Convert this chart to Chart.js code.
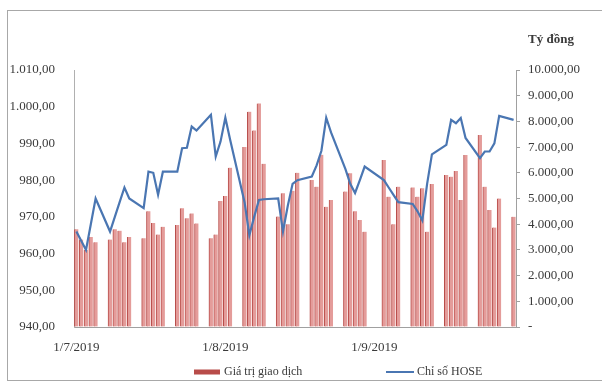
<!DOCTYPE html>
<html>
<head>
<meta charset="utf-8">
<script src="https://cdn.jsdelivr.net/npm/chart.js@4/dist/chart.umd.min.js"></script>
<style>
	body { margin: 0; background: #fff; }
	#wrap { position: relative; width: 602px; height: 385px; }
	#frame { position: absolute; left: 7px; top: 10px; width: 600px; height: 369px; border: 1px solid #a8a8a8; pointer-events: none; }
</style>
</head>
<body>
<div id="wrap">
	<canvas id="myChart" width="602" height="385"></canvas>
	<div id="frame"></div>
</div>
<script>
// phien giao dich HOSE quy 3/2019
var tradeDates = [
	"1/7/2019","2/7/2019","3/7/2019","4/7/2019","5/7/2019",
	"8/7/2019","9/7/2019","10/7/2019","11/7/2019","12/7/2019",
	"15/7/2019","16/7/2019","17/7/2019","18/7/2019","19/7/2019",
	"22/7/2019","23/7/2019","24/7/2019","25/7/2019","26/7/2019",
	"29/7/2019","30/7/2019","31/7/2019","1/8/2019","2/8/2019",
	"5/8/2019","6/8/2019","7/8/2019","8/8/2019","9/8/2019",
	"12/8/2019","13/8/2019","14/8/2019","15/8/2019","16/8/2019",
	"19/8/2019","20/8/2019","21/8/2019","22/8/2019","23/8/2019",
	"26/8/2019","27/8/2019","28/8/2019","29/8/2019","30/8/2019",
	"3/9/2019","4/9/2019","5/9/2019","6/9/2019",
	"9/9/2019","10/9/2019","11/9/2019","12/9/2019","13/9/2019",
	"16/9/2019","17/9/2019","18/9/2019","19/9/2019","20/9/2019",
	"23/9/2019","24/9/2019","25/9/2019","26/9/2019","27/9/2019",
	"30/9/2019"
];

// gia tri giao dich (ty dong)
var tradeValue = [
	3800,3400,3000,3500,3300,
	3400,3800,3750,3300,3500,
	3450,4500,4050,3600,3900,
	3970,4620,4230,4420,4030,
	3450,3600,4900,5100,6200,
	7000,8380,7650,8700,6350,
	4300,5200,4000,5300,6000,
	5720,5460,6700,4680,4940,
	5270,5980,4500,4160,3710,
	6500,5070,4000,5460,
	5430,5070,5400,3710,5560,
	5910,5850,6070,4940,6690,
	7470,5460,4550,3870,5000,
	4290
];

// chi so VN-Index
var hoseIndex = [
	966,963.5,961,968,975,
	966,970,974,978,975,
	972.4,982.3,982,976,982.3,
	982.3,988.7,988.8,994.6,993.5,
	997.8,986.4,990.5,997,991,
	974,965,970,974.6,974.8,
	975,966,973,979,980,
	981,984,988,997,993,
	983,979,976.5,980,983.7,
	980,978,976,974,
	973.5,971.5,969,979,987,
	989.6,996.4,995.5,996.9,991.5,
	986,987.8,987.8,990,997.5,
	996.4
];

var xTickLabels = ["1/7/2019","1/8/2019","1/9/2019"];
var firstDay = "1/7/2019";
var lastDay = "30/9/2019";

function dayNo(s)
{
	var p = s.split("/");
	var f = firstDay.split("/");
	var t = Date.UTC(+p[2], +p[1]-1, +p[0]);
	var t0 = Date.UTC(+f[2], +f[1]-1, +f[0]);
	return Math.round((t - t0) / 86400000);
}

function fmt(n)
{
	// 1234.5 -> 1.234,50
	var s = n.toFixed(2).split(".");
	var whole = s[0].replace(/\B(?=(\d{3})+(?!\d))/g, ".");
	return whole + "," + s[1];
}

var barPts = [];
var linePts = [];
for (var i = 0; i < tradeDates.length; i++)
{
	barPts.push({x: dayNo(tradeDates[i]), y: tradeValue[i]});
	linePts.push({x: dayNo(tradeDates[i]), y: hoseIndex[i]});
}

var FONT = "'Liberation Serif', 'Times New Roman', serif";
var TXT = "#3a3a3a";

// chu "Ty dong" tren truc phai va chu thich o duoi
var extras = {
	id: 'extras',
	afterDraw: function(chart) {
		var ctx = chart.ctx;
		var area = chart.chartArea;
		ctx.save();
		ctx.fillStyle = TXT;
		ctx.font = "bold 13px " + FONT;
		ctx.textBaseline = "middle";
		ctx.textAlign = "left";
		ctx.fillText("Tỷ đồng", area.right + 12, 40);

		var ds = chart.data.datasets;
		var y = 372;
		ctx.font = "12px " + FONT;
		// bar swatch
		ctx.fillStyle = ds[0].borderColor;
		ctx.fillRect(194, y - 2.5, 26, 5);
		ctx.fillStyle = TXT;
		ctx.fillText(ds[0].label, 224, y);
		// line swatch
		ctx.strokeStyle = ds[1].borderColor;
		ctx.lineWidth = 2;
		ctx.beginPath();
		ctx.moveTo(386, y);
		ctx.lineTo(414, y);
		ctx.stroke();
		ctx.fillStyle = TXT;
		ctx.fillText(ds[1].label, 417, y);
		ctx.restore();
	}
};

var myChart = new Chart(document.getElementById('myChart').getContext('2d'), {
	type: 'bar',
	data: {
		datasets: [{
			type: 'bar',
			label: 'Giá trị giao dịch',
			data: barPts,
			yAxisID: 'yVal',
			backgroundColor: '#e49c9a',
			borderColor: '#b84c49',
			borderWidth: {left: 1, right: 0, top: 0, bottom: 0},
			borderSkipped: false,
			barThickness: 4,
			order: 2
		}, {
			type: 'line',
			label: 'Chỉ số HOSE',
			data: linePts,
			yAxisID: 'yIdx',
			borderColor: '#4a76b2',
			backgroundColor: '#4a76b2',
			borderWidth: 2.2,
			pointRadius: 0,
			tension: 0,
			order: 1
		}]
	},
	options: {
		responsive: false,
		animation: false,
		layout: {padding: {left: 0, right: 0, top: 70, bottom: 0}},
		plugins: {
			legend: {display: false},
			tooltip: {enabled: false}
		},
		scales: {
			x: {
				type: 'linear',
				offset: false,
				min: dayNo(firstDay) - 0.5,
				max: dayNo(lastDay) + 0.5,
				grid: {display: false, offset: false},
				border: {display: true, color: '#a0a0a0', width: 1},
				afterBuildTicks: function(scale) {
					scale.ticks = xTickLabels.map(function(s) { return {value: dayNo(s)}; });
				},
				afterFit: function(scale) { scale.height = 58; },
				ticks: {
					autoSkip: false,
					maxRotation: 0,
					padding: 5,
					color: TXT,
					font: {family: FONT, size: 13},
					callback: function(v) {
						for (var k = 0; k < xTickLabels.length; k++)
							if (dayNo(xTickLabels[k]) === v) return xTickLabels[k];
						return '';
					}
				}
			},
			yIdx: {
				type: 'linear',
				position: 'left',
				min: 940,
				max: 1010,
				grid: {display: false},
				border: {display: true, color: '#b0b0b0', width: 1},
				afterFit: function(scale) { scale.width = 74; },
				ticks: {
					stepSize: 10,
					padding: 11,
					color: TXT,
					font: {family: FONT, size: 13},
					callback: function(v) { return fmt(v); }
				}
			},
			yVal: {
				type: 'linear',
				position: 'right',
				min: 0,
				max: 10000,
				grid: {display: true, drawOnChartArea: false, drawTicks: true, tickLength: 4, color: '#a0a0a0'},
				border: {display: true, color: '#a0a0a0', width: 1},
				afterFit: function(scale) { scale.width = 86; },
				ticks: {
					stepSize: 1000,
					padding: 8,
					color: TXT,
					font: {family: FONT, size: 13},
					callback: function(v) { return v === 0 ? '-' : fmt(v); }
				}
			}
		}
	},
	plugins: [extras]
});
</script>
</body>
</html>
